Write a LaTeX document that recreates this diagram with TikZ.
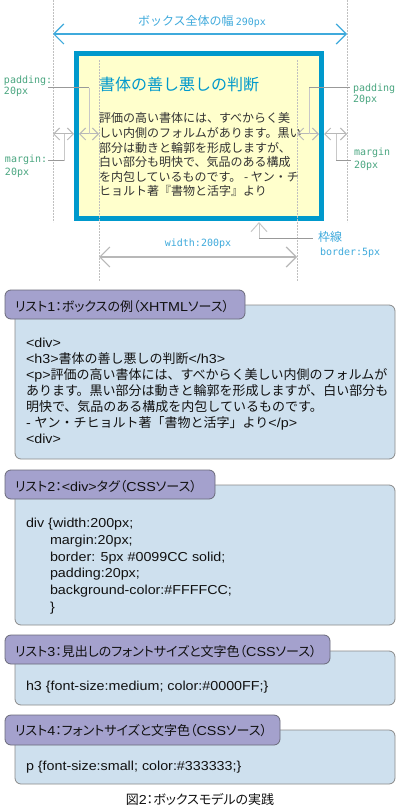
\documentclass[tikz,border=0pt]{standalone}
\usepackage{fontspec}
\setmainfont{Noto Sans CJK JP}
\newfontfamily\jpp[RawFeature=+palt]{Noto Sans CJK JP}
\newfontfamily\lat[FakeStretch=1.1]{Liberation Sans}
\newfontfamily\mono{DejaVu Sans Mono}
\usetikzlibrary{arrows.meta}
\definecolor{bordercol}{HTML}{0099CC}
\definecolor{lblcyan}{HTML}{3FAADC}
\definecolor{lblgreen}{HTML}{4AA680}
\definecolor{boxfill}{HTML}{FFFFCC}
\definecolor{boxtext}{HTML}{333333}
\definecolor{dotcol}{HTML}{C0C0C0}
\definecolor{arrcol}{HTML}{B8B8B8}
\definecolor{leaddark}{HTML}{999999}
\definecolor{leadlight}{HTML}{C8C8C8}
\definecolor{tabfill}{HTML}{A4A1CD}
\definecolor{tabborder}{HTML}{6A6A7A}
\definecolor{panelfill}{HTML}{CEE0EE}
\definecolor{panelborder}{HTML}{8A8A8A}
\definecolor{codetext}{HTML}{111111}
\begin{document}
\begin{tikzpicture}[x=1pt,y=-1pt,
  every node/.style={inner sep=0pt,outer sep=0pt},
  guide/.style={draw=dotcol,line width=1pt,dash pattern=on 2pt off 1pt},
  dimarr/.style={draw=arrcol,line width=1pt,{Straight Barb[length=6pt,width=12pt]}-{Straight Barb[length=6pt,width=12pt]}},
  bigarr/.style={draw=#1,line width=1.2pt,{Straight Barb[length=10pt,width=20pt]}-{Straight Barb[length=10pt,width=20pt]}},
  leadd/.style={draw=leaddark,line width=1pt},
  leadl/.style={draw=leadlight,line width=1pt},
  greenlbl/.style={anchor=base west,text=lblgreen,font=\mono\fontsize{10}{12}\selectfont},
  cyanlbl/.style={text=lblcyan,font=\mono\fontsize{10}{12}\selectfont},
  boxline/.style={anchor=west,text=boxtext,font=\fontsize{12}{14}\selectfont},
  panel/.style={draw=panelborder,fill=panelfill,rounded corners=6pt,line width=0.8pt,anchor=north west},
  tab/.style={draw=tabborder,fill=tabfill,rounded corners=6pt,line width=0.8pt,anchor=north west},
  tabtext/.style={anchor=base west,text=codetext,font=\jpp\fontsize{13}{16}\selectfont},
  code/.style={anchor=base west,text=codetext,font=\fontsize{13}{16}\selectfont}]
\useasboundingbox (0,0) rectangle (400,810);
\fill[white] (0,0) rectangle (400,810);

% ---------- top box model ----------
\node[draw=bordercol,line width=5pt,fill=boxfill,minimum width=245pt,minimum height=165pt,anchor=north west] (box) at (76.5,53.5) {};

\coordinate (gL1) at (53,0);   \coordinate (gL2) at (53,222);
\coordinate (gR1) at (347,0);  \coordinate (gR2) at (347,222);
\coordinate (cL1) at (99,60);  \coordinate (cL2) at (99,281);
\coordinate (cR1) at (297,60); \coordinate (cR2) at (297,281);
\draw[guide] (gL1) -- (gL2);
\draw[guide] (gR1) -- (gR2);
\draw[guide] (cL1) -- (cL2);
\draw[guide] (cR1) -- (cR2);

% total width
\coordinate (oL) at (53,34); \coordinate (oR) at (347,34);
\draw[bigarr=lblcyan] (oL) -- (oR);
\node[text=lblcyan] (totlbl) at (202,21) {{\fontsize{12}{14}\selectfont ボックス全体の幅} {\mono\fontsize{10}{12}\selectfont 290px}};

% text inside box
\node[anchor=west,text=bordercol,font=\fontsize{16}{18}\selectfont] (head) at (99,84) {書体の善し悪しの判断};
\node[boxline] (p1) at (99,118) {評価の高い書体には、すべからく美};
\node[boxline] (p2) at (99,132.5) {しい内側のフォルムがあります。黒い};
\node[boxline] (p3) at (99,147.5) {部分は動きと輪郭を形成しますが、};
\node[boxline] (p4) at (99,162) {白い部分も明快で、気品のある構成};
\node[boxline] (p5) at (99,176.5) {を内包しているものです。 - ヤン・チ};
\node[boxline] (p6) at (99,191) {ヒョルト著『書物と活字』より};

% margin / padding arrows
\coordinate (mA1) at (53,134);  \coordinate (mA2) at (74,134);
\coordinate (pA1) at (79,134);  \coordinate (pA2) at (99,134);
\coordinate (pB1) at (297,134); \coordinate (pB2) at (319,134);
\coordinate (mB1) at (324,134); \coordinate (mB2) at (347,134);
\draw[dimarr] (mA1) -- (mA2);
\draw[dimarr] (pA1) -- (pA2);
\draw[dimarr] (pB1) -- (pB2);
\draw[dimarr] (mB1) -- (mB2);

% leaders
\coordinate (lp0) at (48,88);  \coordinate (lp1) at (89,88);  \coordinate (lp2) at (89,134);
\coordinate (rp0) at (350,88); \coordinate (rp1) at (309,88); \coordinate (rp2) at (309,134);
\coordinate (lm0) at (48,161); \coordinate (lm1) at (64,161); \coordinate (lm2) at (64,134);
\coordinate (rm0) at (351,161);\coordinate (rm1) at (336,161);\coordinate (rm2) at (336,134);
\draw[leadl] (lp1) -- (lp2);
\draw[leadd] (lp0) -- (lp1);
\draw[leadl] (rp1) -- (rp2);
\draw[leadd] (rp0) -- (rp1);
\draw[leadl] (lm2) -- (lm1);
\draw[leadd] (lm1) -- (lm0);
\draw[leadl] (rm2) -- (rm1);
\draw[leadd] (rm1) -- (rm0);

\node[greenlbl] (padL)  at (4,84)    {padding:};
\node[greenlbl] (padLv) at (4,94.5)  {20px};
\node[greenlbl] (padR)  at (353,92)  {padding};
\node[greenlbl] (padRv) at (353,102.5) {20px};
\node[greenlbl] (marL)  at (5,162.5) {margin:};
\node[greenlbl] (marLv) at (5,175.5) {20px};
\node[greenlbl] (marR)  at (354,156) {margin};
\node[greenlbl] (marRv) at (354,169) {20px};

% border leader
\coordinate (bt) at (259,222); \coordinate (bc) at (259,238); \coordinate (be) at (313,238);
\draw[leadl,{Straight Barb[length=9pt,width=16pt]}-] (bt) -- (bc);
\draw[leadd] (bc) -- (be);
\node[anchor=west,text=lblcyan,font=\fontsize{12}{14}\selectfont] (waku) at (318,237) {枠線};
\node[cyanlbl,anchor=base west] (bord) at (320,255) {border:5px};

% width arrow
\coordinate (w1) at (99,257); \coordinate (w2) at (297,257);
\draw[bigarr=arrcol] (w1) -- (w2);
\node[cyanlbl,anchor=base] (wlbl) at (198,246.5) {width:200px};

% ---------- listing 1 ----------
\node[panel,minimum width=380pt,minimum height=154pt] (b1) at (15,305) {};
\node[tab,minimum width=240pt,minimum height=29pt] (t1) at (5,290) {};
\node[tabtext] (t1txt) at (15,311.5) {リスト{\lat 1}：ボックスの例（{\lat XHTML}ソース）};
\node[code] (l1a) at (26,347)   {\lat <div>};
\node[code] (l1b) at (26,363.5) {{\lat <h3>}書体の善し悪しの判断{\lat </h3>}};
\node[code] (l1c) at (26,379.5) {{\lat <p>}評価の高い書体には、すべからく美しい内側のフォルムが};
\node[code] (l1d) at (26,395.5) {あります。黒い部分は動きと輪郭を形成しますが、白い部分も};
\node[code] (l1e) at (26,411)   {明快で、気品のある構成を内包しているものです。};
\node[code] (l1f) at (26,427)   {{\lat - }ヤン・チヒョルト著「書物と活字」より{\lat </p>}};
\node[code] (l1g) at (26,443.5) {\lat <div>};

% ---------- listing 2 ----------
\node[panel,minimum width=380pt,minimum height=140pt] (b2) at (15,485) {};
\node[tab,minimum width=210pt,minimum height=29pt] (t2) at (5,470) {};
\node[tabtext] (t2txt) at (15,491.5) {リスト{\lat 2}：{\lat <div>}タグ（{\lat CSS}ソース）};
\node[code] (l2a) at (26,527.5) {\lat div \{width:200px;};
\node[code] (l2b) at (50,544.5) {\lat margin:20px;};
\node[code] (l2c) at (50,561.5) {\lat border: 5px \#0099CC solid;};
\node[code] (l2d) at (50,577.5) {\lat padding:20px;};
\node[code] (l2e) at (50,594.5) {\lat background-color:\#FFFFCC;};
\node[code] (l2f) at (50,611.5) {\lat \}};

% ---------- listing 3 ----------
\node[panel,minimum width=380pt,minimum height=54pt] (b3) at (15,651) {};
\node[tab,minimum width=325pt,minimum height=29pt] (t3) at (5,635) {};
\node[tabtext] (t3txt) at (15,656.5) {リスト{\lat 3}：見出しのフォントサイズと文字色（{\lat CSS}ソース）};
\node[code] (l3a) at (26,690.5) {\lat h3 \{font-size:medium; color:\#0000FF;\}};

% ---------- listing 4 ----------
\node[panel,minimum width=380pt,minimum height=54pt] (b4) at (15,730) {};
\node[tab,minimum width=275pt,minimum height=30pt] (t4) at (5,715) {};
\node[tabtext] (t4txt) at (15,735.5) {リスト{\lat 4}：フォントサイズと文字色（{\lat CSS}ソース）};
\node[code] (l4a) at (26,770.5) {\lat p \{font-size:small; color:\#333333;\}};

% caption
\node[anchor=base,text=codetext,font=\jpp\fontsize{13}{16}\selectfont] (cap) at (200,804.5) {図{\lat 2}：ボックスモデルの実践};
\end{tikzpicture}
\end{document}
